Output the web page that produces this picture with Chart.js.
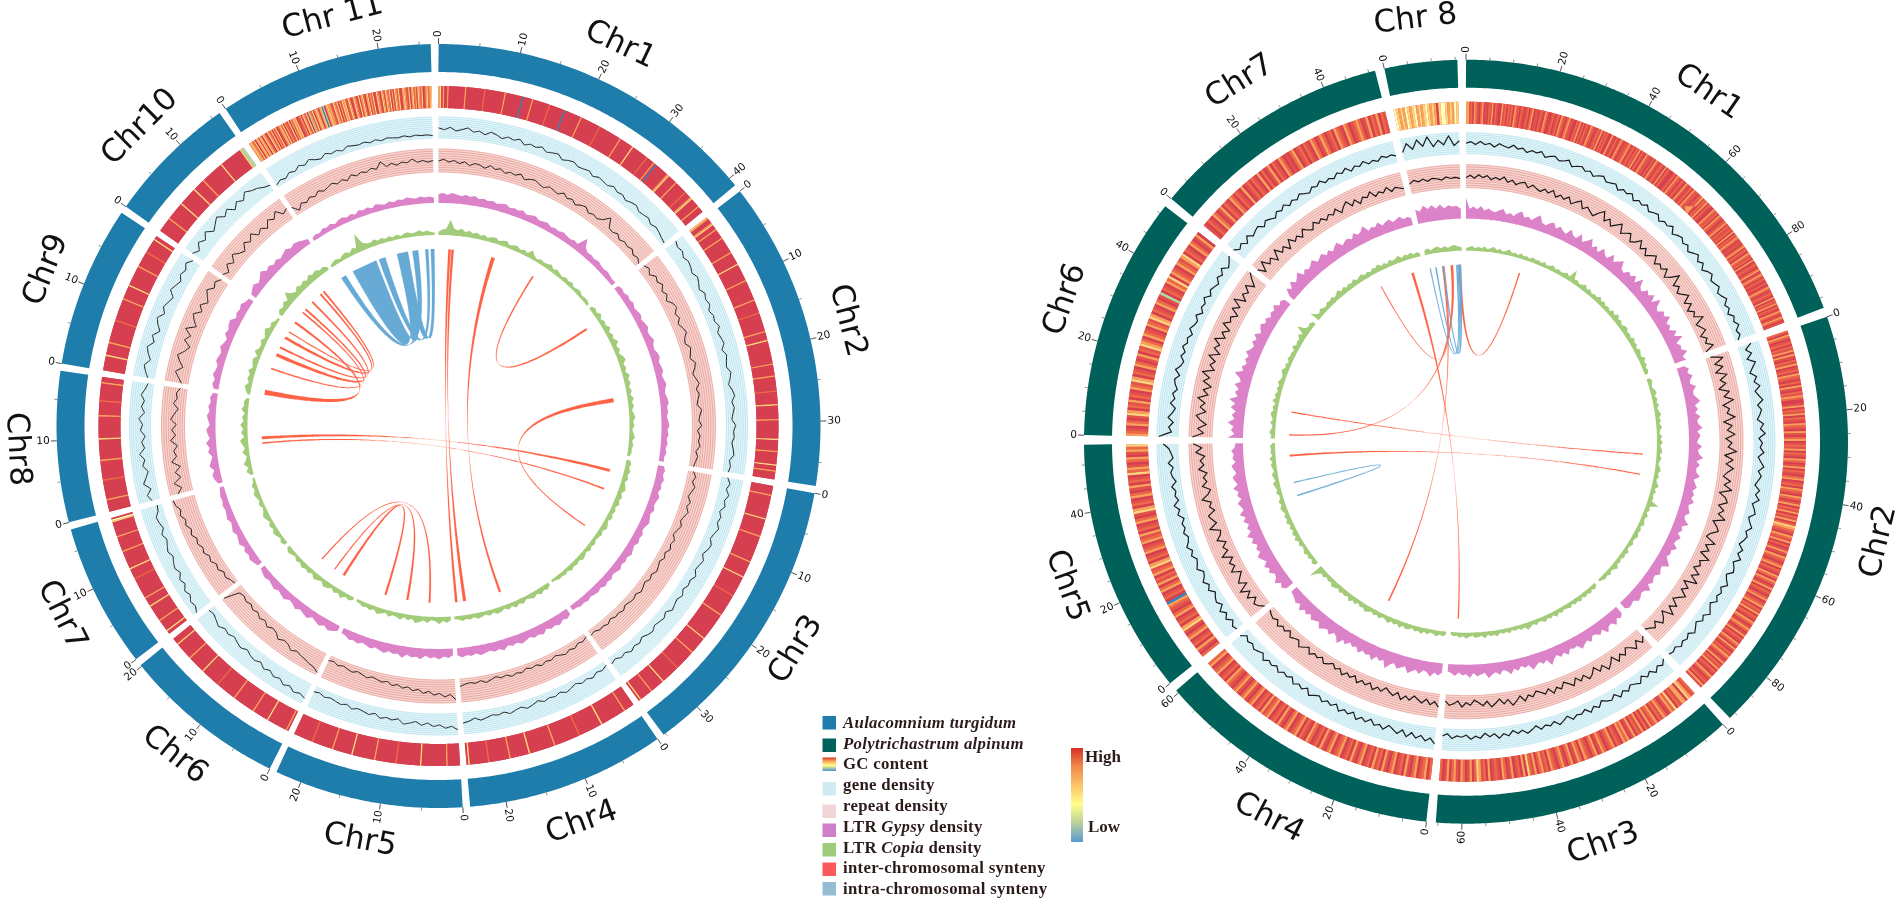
<!doctype html>
<html lang="en">
<head>
<meta charset="utf-8">
<title>Synteny circos plots</title>
<style>
html, body { margin: 0; background: #fff; }
canvas { display: block; }
</style>
</head>
<body>
<canvas id="canvas" width="1900" height="899"></canvas>
<script src="https://cdn.jsdelivr.net/npm/chart.js@4"></script>
<script>
// chromosome names and lengths (Mb)
const lNames = ['Chr1','Chr2','Chr3','Chr4','Chr5','Chr6','Chr7','Chr8','Chr9','Chr10','Chr 11'];
const lLens = [41.1,37.9,35.3,24.4,23.2,20.2,17.7,18.5,19.8,16.1,26.4];
const rNames = ['Chr1','Chr2','Chr3','Chr4','Chr5','Chr6','Chr7','Chr 8'];
const rLens = [97.2,91.5,65.5,60.7,54.3,51.9,51.4,15.5];

// GC content, one digit per window (0 = high ... 8 = low)
const lHeat = [
'340300300000000000300000000000020000000000000300000000000800000030000000000020000000000800000000000300000000000002000000000000000300000000040000000000020000030800000000034000000300000000200003400000030000',
'4300034000300000030000000000300000000400000000000300000000000003000000002000000000000300000400000000000000030000000300000000020000000040000000003000000000000400000003000000004000300000',
'000000300000000000000040000000000030000000000000000030000000000400000000000002000000000000003000000000000000000400000000000300000000000002000000000000400000000030000000040',
'000000300000000000000040000000000000020000000000000003000000000000000400000000000300000000000020000000000040',
'00000000300000000000000004000000000000000200000000000003000000000000004000000000000300000000000002000000000000',
'0300000000000004000000000030000000000000030000000000000200000000000040000000000030000000000040000',
'00400000003000000000040000030000000000000200000040000000000030000000003000000000450',
'0000000300000000000200000000000300000000000040000000000000300000000200000000003000',
'00000000040000000300000000000002000000000000030000000040000000000003000000000200000000400',
'00000000030000000000040000000000040000000300000000000000400000000000000466',
'3432403414304320431403240134240321403243401230431406324034303486034332143240314341243014320413420341324014320431432403143241034321403423143240134234'];
const rHeat = [
'33120321023010213021003120212032102101202301102103200120120321023110021302021032101213021200310210320112301202130210321102032012103021001203210210320120321102130213021003212032101230211203021320110230210321203012102301320210201320121030213021032013201',
'2032012021303102130120321020310213200130213021032103102301213021032013021023012032103201302130213024321032130201310321023021032032013021023012302130210320132013021032031021320130213021032012031',
'2134033120423102312032130203120310323012032102310320123023103201320123021320312403021031023012103021342031023013203102',
'20321032013021032013021302103201302103210320130210230120321032013021032130210320132013201230210321032',
'2013021032014302103201238021032031203214302103210321302103201430210320130210423102301324',
'321032014302130210321430210320130214320321032143021032016021032403210321340210320130',
'10210320130210320210301202103020130210320102301202103201320120321032012320130213021',
'54343543453434543430455434354'];

// gene density, percent of track height, per chromosome
const lGene = [
[48,40,52,36,44,55,38,46,33,50,42,30,44,36,48,28,40,34,46,30,38,44,26,36,42,30,34,40,26,38,32,28,42,30,36,24,34,40,26,30,36,22,32,26,18,12],
[62,50,58,44,54,48,38,52,42,30,46,36,44,28,40,34,48,30,38,44,26,42,34,28,44,36,24,38,46,30,40,32,26,44,34,38,28,36,42,24,32,26],
[28,44,32,50,36,46,28,42,34,50,38,30,46,40,26,44,36,30,48,34,40,28,44,32,38,46,26,40,34,28,42,36,24,38,30,42,26,34,20,30],
[20,30,22,36,24,32,18,28,36,22,32,26,34,20,30,38,24,30,40,26,34,28,36,44,30,42,48],
[78,60,68,52,60,44,56,40,50,58,36,46,38,48,30,42,34,28,38,24,34,28,22,30,20,26],
[74,62,72,54,66,48,58,42,54,36,48,42,30,44,36,26,38,30,46,34,24,30],
[84,68,76,58,70,50,62,42,56,48,36,50,40,30,44,26,36,42,24,20],
[38,54,30,60,42,28,50,36,58,32,44,26,48,38,56,30,46,34,52,36,26],
[32,48,60,36,54,66,40,58,30,50,64,38,56,44,32,60,48,36,54,42,60,38],
[60,40,68,48,74,44,62,80,52,72,42,66,48,76,60,52,36,28],
[10,22,14,30,20,36,24,40,26,18,34,22,28,16,30,24,20,26,16,24,14,22,18,14,20,12,18,14,16,12]];
const lRepeat = [
[48,56,44,52,40,50,36,48,44,34,50,38,46,32,42,36,48,30,40,44,34,28,42,36,30,46,32,40,26,38,44,28,36,30,42,70,32,28,38,24,34,28,36,22,30,16],
[28,40,24,44,34,48,30,42,26,46,52,34,44,28,40,48,32,26,44,36,28,46,38,24,34,44,28,38,30,24,42,34,28,40,22,34,28,36,20,30,24,18],
[22,36,26,42,32,24,40,30,44,34,26,38,28,20,36,28,38,24,34,22,30,36,24,32,20,28,34,22,30,26,20,32,24,28,18,30,22,26,16,22],
[14,24,18,30,22,32,24,16,26,20,30,18,24,16,28,22,30,18,24,14,22,30,18,26,20,24,32],
[88,64,74,58,66,50,60,44,52,38,46,34,42,28,36,30,24,34,26,20,30,24,18,26,16,22],
[90,76,72,64,60,52,64,48,44,56,38,32,44,28,38,24,32,20,28,18,26,92],
[14,20,32,24,40,32,48,40,56,48,62,54,70,60,76,68,84,74,90,94],
[66,44,72,38,58,32,66,42,52,34,62,40,56,36,60,46,30,52,38,44,30],
[28,46,64,36,56,72,46,30,62,42,74,34,54,68,38,58,32,48,64,40,52,34],
[42,26,54,34,62,42,30,58,40,64,36,52,32,60,44,68,38,50],
[40,12,34,24,38,28,44,32,40,48,36,46,34,52,40,50,42,54,44,72,46,56,44,54,48,62,46,52,44,50]];
const rGene = [
[50,58,44,60,46,54,38,56,48,42,58,44,52,36,50,44,56,34,46,52,38,44,56,32,42,50,36,46,30,44,52,34,40,48,28,44,36,50,26,42,32,48,28,38,46,24,40,34,50,22,36,44,28,40,20,34,48,26,42,18,36,46,24,32,42,20,30,44,22,34,16,38,26,42,20,30,12],
[64,30,52,24,58,38,20,46,30,54,26,40,56,28,44,34,20,48,32,54,24,40,30,48,22,36,52,28,44,32,20,46,30,52,24,38,48,22,34,50,28,42,32,18,44,28,52,24,38,46,20,32,50,26,42,30,46,22,36,52,28,42,20,34,48,26,40,30,44,24,34,28],
[26,46,32,52,28,44,22,48,36,26,46,30,50,24,42,34,20,44,28,48,24,38,32,46,22,36,48,26,40,30,44,22,36,48,28,40,22,44,30,50,26,38,20,42,32,46,26,36,30,44,22,34],
[76,50,66,44,60,38,62,34,56,42,28,54,36,48,26,46,32,52,24,42,30,48,22,40,28,44,26,36,50,24,42,30,46,22,36,28,44,26,40,30,48,24,34,42,28,38,22,46],
[38,46,26,50,30,52,24,42,34,20,44,28,48,30,22,46,34,26,44,30,50,34,26,42,28,36,20,44,30,52,26,38,30,46,22,36,42,28,50,26,34,44,70],
[92,32,46,26,52,34,22,48,30,44,26,40,48,28,54,34,26,46,32,52,36,44,28,50,36,30,48,24,42,34,52,28,44,36,26,48,34,56,30,44,62],
[64,42,56,34,60,38,48,54,32,50,40,28,48,36,52,32,46,34,50,38,28,46,36,52,32,42,30,48,36,52,28,44,34,50,30,40,28,46,34,40,30],
[38,76,44,84,50,92,42,70,46,88,40,62]];
const rRepeat = [
[44,54,42,58,46,56,40,52,44,58,38,50,34,46,52,32,48,38,30,46,34,52,28,44,32,50,26,42,56,28,44,32,22,46,64,28,48,24,42,60,24,38,50,20,32,56,26,44,18,36,52,22,40,28,48,16,36,70,24,42,18,34,54,20,44,14,38,26,60,18,32,46,14,36,22,50,10],
[20,72,28,60,22,68,32,54,18,62,34,74,24,50,38,70,20,56,32,66,26,52,36,72,22,60,30,64,40,24,58,34,70,20,50,62,28,56,36,72,24,46,60,32,18,66,30,54,22,70,36,48,26,62,34,74,20,52,30,64,42,24,58,32,68,22,46,60,28,50,34,22],
[38,58,32,62,42,28,54,36,60,26,48,64,34,52,24,46,58,32,50,28,56,38,24,48,34,54,28,46,32,22,42,30,52,26,44,60,30,48,24,40,54,28,46,32,20,42,30,50,24,36,44,26],
[56,34,50,28,48,36,24,46,32,52,26,44,34,20,42,30,48,24,40,28,46,22,38,26,44,24,36,20,32,42,22,36,28,44,20,34,46,24,30,40,18,36,26,42,22,34,28,18],
[26,46,56,32,64,38,74,30,60,42,24,62,36,52,28,68,34,48,26,60,38,30,72,36,50,62,28,46,34,70,40,26,58,36,48,30,64,40,54,34,72,44,82],
[86,38,64,28,56,74,34,62,42,78,36,60,28,68,44,82,34,58,40,74,32,64,46,76,36,58,30,70,44,54,28,66,38,78,32,60,42,70,36,64,88],
[70,38,80,46,62,32,74,42,58,30,66,40,54,34,62,44,32,58,40,52,34,50,38,56,28,48,62,34,54,28,50,40,60,32,46,36,54,30,44,36,28],
[42,54,44,52,40,50,46,38,50,42,46,40]];

// LTR density, percent of the bar range, per chromosome
const lGypsy = [
[44,50,42,52,46,40,48,42,50,38,44,36,42,34,40,44,32,38,34,42,30,36,40,30,34,38,28,34,30,38,32,28,36,30,80,40,28,32,26,34,28,24,30,26,22,24],
[24,32,26,36,30,38,28,34,40,30,38,44,32,36,46,34,30,40,44,32,38,42,30,36,44,34,30,38,42,32,36,28,34,40,30,36,28,34,26,32,24,26],
[30,40,34,44,36,42,32,46,38,34,44,32,38,46,36,30,42,36,44,32,38,46,34,40,32,44,36,30,40,34,42,30,38,34,28,36,30,34,26,24],
[32,44,36,50,40,46,34,52,42,48,36,44,52,38,46,36,54,42,48,38,44,50,38,46,40,48,36],
[34,46,38,52,42,48,36,54,44,50,38,58,42,46,38,52,44,36,48,40,34,46,38,44,32,28],
[28,40,46,34,48,40,32,50,42,34,48,36,30,46,40,32,44,36,30,38,32,24],
[26,34,42,32,40,28,44,36,30,42,34,28,40,34,30,36,28,32,26,22],
[22,36,42,28,48,36,26,44,34,50,30,40,46,28,38,44,32,40,30,36,24],
[24,36,28,42,34,30,44,38,32,46,36,28,48,40,50,54,32,42,36,46,32,26],
[28,40,50,34,46,64,42,52,38,48,36,46,54,40,50,44,34,26],
[16,24,18,30,24,32,20,30,34,24,32,22,36,28,34,24,38,30,24,34,26,36,30,38,32,28,36,30,34,28]];
const lCopia = [
[16,28,32,78,36,28,38,24,32,22,30,20,28,18,26,30,18,26,32,16,24,28,16,26,18,42,22,14,24,18,22,30,16,26,20,14,24,18,26,14,20,24,14,18,20,12],
[14,26,18,32,16,28,20,36,18,30,22,38,20,30,18,32,38,20,28,18,34,22,30,18,28,16,32,20,28,16,24,30,18,26,14,22,28,16,24,18,20,12],
[18,28,20,32,22,30,18,28,34,20,30,22,32,18,28,20,30,16,26,32,18,28,20,16,26,18,28,16,24,30,18,26,20,28,16,24,18,22,14,12],
[16,28,20,32,18,30,22,16,30,20,32,18,28,16,26,30,18,28,16,24,30,18,26,20,28,18,14],
[18,30,20,36,22,16,32,20,30,38,18,28,16,32,22,18,30,16,26,34,18,28,20,26,16,14],
[14,26,18,36,20,30,16,28,34,18,26,32,16,28,20,30,18,26,14,22,28,14],
[16,26,14,24,30,18,28,16,26,32,20,14,26,16,24,30,18,26,14,12],
[14,32,18,38,22,16,34,20,30,40,18,32,22,36,20,28,16,34,22,26,14],
[12,26,34,18,30,22,36,18,28,32,16,38,22,20,32,18,30,40,20,28,16,12],
[18,32,22,38,26,62,36,24,40,28,38,26,42,30,38,24,30,16],
[12,20,24,14,26,30,18,34,24,92,36,26,22,32,20,28,18,26,16,24,14,22,26,16,20,28,18,24,16,14]];
const rGypsy = [
[104,50,62,48,66,44,56,46,42,54,64,40,50,38,58,70,42,52,40,60,76,44,38,54,66,42,60,46,38,70,48,42,74,40,58,80,44,62,38,72,50,42,78,48,66,84,46,40,64,52,72,44,86,50,40,68,54,78,46,88,52,42,70,56,82,48,60,44,76,52,90,46,62,56,80,48,60],
[38,58,44,66,48,42,68,50,46,60,74,44,56,40,64,46,50,70,42,58,48,40,66,46,52,74,42,60,44,48,68,40,50,62,44,56,46,66,42,48,60,40,46,72,44,54,38,62,48,42,68,46,52,40,58,76,44,50,62,42,46,56,40,70,48,42,54,60,40,46,50,38],
[42,58,46,70,48,52,76,44,62,48,42,66,50,60,74,46,52,44,68,48,62,44,58,82,48,62,46,58,74,44,54,40,60,46,70,50,42,64,48,56,72,44,52,60,42,66,48,54,40,58,44,38],
[46,62,50,74,54,48,70,52,64,78,48,60,72,50,62,88,52,64,48,76,54,62,50,70,48,58,44,66,50,82,56,46,68,52,60,74,48,56,66,46,62,50,72,44,58,48,40,36],
[44,62,48,74,52,46,68,54,72,48,62,76,52,64,48,70,54,78,50,62,46,68,50,74,48,56,68,44,60,50,72,46,58,66,44,54,64,42,56,48,60,42,38],
[76,44,62,50,80,48,64,46,74,54,88,48,66,52,78,50,62,92,54,68,48,64,52,74,56,46,66,50,72,44,58,68,48,62,42,56,46,66,40,50,36],
[28,64,44,74,50,62,80,48,66,52,62,76,50,60,70,48,64,46,62,72,44,56,62,46,70,52,60,80,46,58,50,68,44,54,62,42,50,58,40,46,36],
[72,58,84,64,80,60,78,56,70,62,66,50]];
const rCopia = [
[12,18,24,14,22,16,26,14,20,28,16,24,14,20,30,16,22,14,26,16,20,14,24,18,22,16,26,14,20,28,16,24,18,22,30,18,65,22,26,16,22,32,18,28,16,24,20,34,20,30,18,26,16,32,20,38,22,30,18,28,32,20,26,18,34,22,28,16,30,24,18,36,22,28,18,24,16],
[16,26,18,14,24,30,16,26,18,28,16,22,32,18,26,16,28,18,14,26,18,30,16,24,28,16,26,20,14,24,30,18,26,16,22,34,18,28,16,24,20,62,18,26,16,28,18,22,30,16,26,18,28,22,16,26,18,14,30,20,26,16,24,18,34,22,16,28,18,24,16,12],
[14,24,16,28,18,26,16,30,18,26,16,28,20,16,26,18,32,16,26,18,30,20,16,28,18,26,36,18,26,16,22,14,28,18,24,16,30,20,26,16,32,18,24,28,16,22,30,18,26,16,20,12],
[16,26,18,30,20,16,28,18,32,20,28,16,26,30,18,34,20,28,18,32,22,16,30,20,28,18,26,34,22,28,16,30,20,36,18,26,22,30,18,28,34,20,26,18,30,22,40,72],
[18,28,16,26,18,30,20,16,28,18,34,20,30,18,28,16,32,20,28,18,26,32,20,30,18,16,28,20,26,34,18,24,30,16,22,28,18,32,16,24,20,26,14],
[24,18,30,20,16,28,18,26,32,20,28,16,36,20,30,18,28,20,32,22,18,26,34,20,28,16,30,22,26,18,36,20,28,24,40,22,66,28,20,26,16],
[52,28,20,32,22,18,30,22,32,20,28,38,22,32,20,30,22,34,20,28,32,20,28,18,30,24,36,20,28,18,32,22,26,34,18,28,22,30,18,24,16],
[22,30,18,28,32,20,28,18,26,30,22,18]];

// links: start and end of each ribbon side, degrees clockwise from the top
const lInter = [
[3.2,4,173.8,174.6],[4.2,5,171,172],[17.4,18.6,159.3,160],[32,32.5,56.5,57.2],[81,82.3,124,124.4],
[104.1,105,265.7,266.6],[110.5,111,264.2,264.7],
[221,221.4,182.6,183.2],[215.7,216.1,189.8,190.5],[212,212.8,197.1,197.8],
[-79.8,-78.2,-54.5,-53.8],[-71.3,-70.8,-50.3,-49.8],[-66.8,-65.7,-49,-48.4],[-63.9,-63.3,-45.8,-45.2],[-60.5,-59.6,-42.1,-41.5],[-58,-57.6,-40.8,-40.2]];
const lIntra = [
[-13,-10,-2.5,-1.35],[-19.7,-17.5,-4.3,-3.3],[-29,-20.6,-13.6,-10],[-33.3,-31.6,-8.5,-6.6]];
const rInter = [
[-28.8,-28.5,-7.4,-7],[-18,-17.2,182.3,182.7],[-7.8,-7.3,205.7,206.2],[272,272.4,-5,-4.2],[17.4,17.8,-2.4,-1.6],
[279.4,279.8,93.8,94.2],[265.2,265.8,100.4,100.8]];
const rIntra = [
[-11.8,-11.5,-3.2,-2.8],[-10,-9.6,-2.8,-2.4],[-7.6,-7.2,-2.4,-1.6],[256.5,256.8,252.1,252.5]];

// legend text
const legendItems = [
[['Aulacomnium turgidum','i']],
[['Polytrichastrum alpinum','i']],
[['GC content','']],
[['gene density','']],
[['repeat density','']],
[['LTR ',''],['Gypsy','i'],[' density','']],
[['LTR ',''],['Copia','i'],[' density','']],
[['inter-chromosomal synteny','']],
[['intra-chromosomal synteny','']]];
const legendColors = ['#1f7dab','#00605a',null,'#cfecf2','#f0d6d6','#cf7fc7','#9fcb7d','#fb5a5a','#92bdd3'];

const heatColors = ['#d63f50','#e2524c','#ec6a48','#f9a25c','#fdd57f','#ffffbf','#abdda4','#66c2a5','#3288bd'];
const gradStops = ['#d73027','#f08a4b','#fdc46a','#ffff8c','#b8cf9a','#5b9bd5'];

const datasets = [];
const textItems = [];
// a tiny tension keeps Chart.js off its fast path, which merges points sharing a pixel column
const TENSION = 0.0001;

function polar(c, r, deg) {
  const t = deg * Math.PI / 180;
  return {x: c.x + r * Math.sin(t), y: c.y - r * Math.cos(t)};
}
function arcPoints(c, r, a, b) {
  const n = Math.max(2, Math.ceil(Math.abs(b - a)));
  const pts = [];
  for (let i = 0; i <= n; i++) pts.push(polar(c, r, a + (b - a) * i / n));
  return pts;
}
function addLine(data, color, width, extra) {
  datasets.push(Object.assign({data: data, showLine: true, borderColor: color, borderWidth: width,
    pointRadius: 0, tension: TENSION, fill: false, spanGaps: false}, extra || {}));
}
function addShape(data, color, width, edge) {
  datasets.push({data: data, showLine: true, borderWidth: width || 0, borderColor: edge || color, backgroundColor: color,
    pointRadius: 0, tension: TENSION, fill: 'shape'});
}
function addRibbon(c, r, link, color, edge) {
  const curve = (a, b) => {
    const p = polar(c, r, a), q = polar(c, r, b), pts = [];
    for (let i = 0; i <= 50; i++) {
      const s = i / 50, u = 1 - s;
      pts.push({x: u * u * p.x + 2 * u * s * c.x + s * s * q.x, y: u * u * p.y + 2 * u * s * c.y + s * s * q.y});
    }
    return pts;
  };
  addShape(curve(link[0], link[2]).concat(curve(link[3], link[1])), color, 0.4, edge);
}

function addPanel(p) {
  const c = p.center;
  let start = 0;
  p.lens.forEach((len, k) => {
    const end = start + len * p.scale;
    // chromosome band
    addLine(arcPoints(c, 368, start, end), p.color, 28);
    // ticks
    const major = [], minor = [];
    for (let mb = 0; mb <= len; mb += 5) {
      const a = start + mb * p.scale;
      const isMajor = mb % p.labelStep === 0;
      (isMajor ? major : minor).push(polar(c, 382, a), polar(c, 382 + (isMajor ? 6 : 3), a), {x: NaN, y: NaN});
      if (isMajor) textItems.push({kind: 'tick', c: c, a: a, text: String(mb)});
    }
    addLine(major, '#333', 0.9);
    addLine(minor, '#666', 0.8);
    textItems.push({kind: 'name', c: c, a: (start + end) / 2 + (p.nameShift[k] || 0), r: p.nameR, text: p.names[k]});

    // GC heat ring
    const cells = p.heat[k].split('').map(Number);
    addLine(arcPoints(c, 329, start, end), heatColors[p.heatBase], 22);
    const edge = cells.map((v, i) => polar(c, 329, start + (end - start) * i / cells.length));
    edge.push(polar(c, 329, end));
    addLine(edge, heatColors[0], 22, {segment: {borderColor: ctx => heatColors[cells[ctx.p0DataIndex]]}});

    // striped backgrounds and the two line tracks
    [[288, 309, '#e6f6fa', '#a9dde9', p.gene[k]], [254, 277, '#f7d6d1', '#e48f88', p.repeat[k]]].forEach(t => {
      addLine(arcPoints(c, (t[0] + t[1]) / 2, start, end), t[2], t[1] - t[0]);
      let stripes = [];
      for (let s = 0; s <= 10; s++) {
        stripes = stripes.concat(arcPoints(c, t[0] + (t[1] - t[0]) * s / 10, start, end), [{x: NaN, y: NaN}]);
      }
      addLine(stripes, t[3], 0.7);
      addLine(t[4].map((v, i) => polar(c, t[0] + (t[1] - t[0]) * v / 100, start + (end - start) * i / (t[4].length - 1))), '#1a1a1a', p.lineWidth);
    });

    // LTR density bars
    [[223, '#dc82c8', p.gypsy[k]], [191, '#a3cc7a', p.copia[k]]].forEach(t => {
      const top = t[2].map((v, i) => polar(c, t[0] + v * 0.2, start + (end - start) * i / (t[2].length - 1)));
      addShape(top.concat(arcPoints(c, t[0], end, start)), t[1]);
    });
    start = end + p.gap;
  });
  p.inter.forEach(l => addRibbon(c, 177, l, '#ff6347', 'rgba(255,99,71,0.3)'));
  p.intra.forEach(l => addRibbon(c, 177, l, '#67aad6', 'rgba(103,170,214,0.5)'));
}

addPanel({center: {x: 438.5, y: 426}, names: lNames, lens: lLens, scale: 1.24, gap: 1.09, labelStep: 10, color: '#1f7dab', lineWidth: 1,
  heat: lHeat, heatBase: 0, gene: lGene, repeat: lRepeat, gypsy: lGypsy, copia: lCopia, inter: lInter, intra: lIntra,
  nameR: 422, nameShift: {10: 3}});
addPanel({center: {x: 1466, y: 441.7}, names: rNames, lens: rLens, scale: 0.715, gap: 1.4, labelStep: 20, color: '#00605a', lineWidth: 1.2,
  heat: rHeat, heatBase: 1, gene: rGene, repeat: rRepeat, gypsy: rGypsy, copia: rCopia, inter: rInter, intra: rIntra,
  nameR: 425, nameShift: {}});

const textPlugin = {
  id: 'circosText',
  afterDatasetsDraw(chart) {
    const ctx = chart.ctx, sx = chart.scales.x, sy = chart.scales.y;
    ctx.save();
    ctx.fillStyle = '#111';
    ctx.textBaseline = 'middle';
    textItems.forEach(t => {
      const a = ((t.a % 360) + 360) % 360;
      const pos = polar(t.c, t.kind === 'tick' ? 389 : t.r, a);
      ctx.save();
      ctx.translate(sx.getPixelForValue(pos.x), sy.getPixelForValue(pos.y));
      if (t.kind === 'tick') {
        ctx.font = '10.5px "DejaVu Sans"';
        const right = a < 180;
        ctx.rotate((right ? a - 90 : a + 90) * Math.PI / 180);
        ctx.textAlign = right ? 'left' : 'right';
      } else {
        ctx.font = '31px "DejaVu Sans"';
        ctx.textAlign = 'center';
        ctx.rotate(((a < 90 || a > 270) ? a : a - 180) * Math.PI / 180);
      }
      ctx.fillText(t.text, 0, 0);
      ctx.restore();
    });
    ctx.restore();

    // legend and colour bar
    const boxRows = [722.5, 745, 764, 788.5, 811, 830, 849.5, 869, 888.5];
    const textRows = [723.5, 744.5, 764.5, 785.5, 806.5, 827.5, 848.5, 869, 889.5];
    ctx.save();
    ctx.textAlign = 'left';
    ctx.textBaseline = 'middle';
    boxRows.forEach((y, i) => {
      if (legendColors[i]) {
        ctx.fillStyle = legendColors[i];
      } else {
        const g = ctx.createLinearGradient(0, y - 6.5, 0, y + 6.5);
        gradStops.forEach((s, j) => g.addColorStop(j / (gradStops.length - 1), s));
        ctx.fillStyle = g;
      }
      ctx.fillRect(822.5, y - 6.5, 13.5, 13.5);
      let x = 843;
      ctx.fillStyle = '#2b1b1b';
      ctx.letterSpacing = '0.3px';
      legendItems[i].forEach(part => {
        ctx.font = (part[1] === 'i' ? 'italic ' : '') + 'bold 16.8px "Liberation Serif"';
        ctx.fillText(part[0], x, textRows[i]);
        x += ctx.measureText(part[0]).width;
      });
    });
    ctx.letterSpacing = '0px';
    const bar = ctx.createLinearGradient(0, 748, 0, 842);
    gradStops.forEach((s, j) => bar.addColorStop(j / (gradStops.length - 1), s));
    ctx.fillStyle = bar;
    ctx.fillRect(1071, 748, 12, 94);
    ctx.fillStyle = '#2b1b1b';
    ctx.font = 'bold 17px "Liberation Serif"';
    ctx.fillText('High', 1085, 758);
    ctx.fillText('Low', 1088, 828);
    ctx.restore();
  }
};

new Chart(document.getElementById('canvas').getContext('2d'), {
  type: 'scatter',
  data: {datasets: datasets.reverse()},
  options: {
    responsive: false,
    animation: false,
    events: [],
    layout: {padding: 0},
    plugins: {legend: {display: false}, tooltip: {enabled: false}},
    scales: {
      x: {type: 'linear', min: 0, max: 1900, display: false},
      y: {type: 'linear', min: 0, max: 899, reverse: true, display: false}
    }
  },
  plugins: [textPlugin]
});
</script>
</body>
</html>
